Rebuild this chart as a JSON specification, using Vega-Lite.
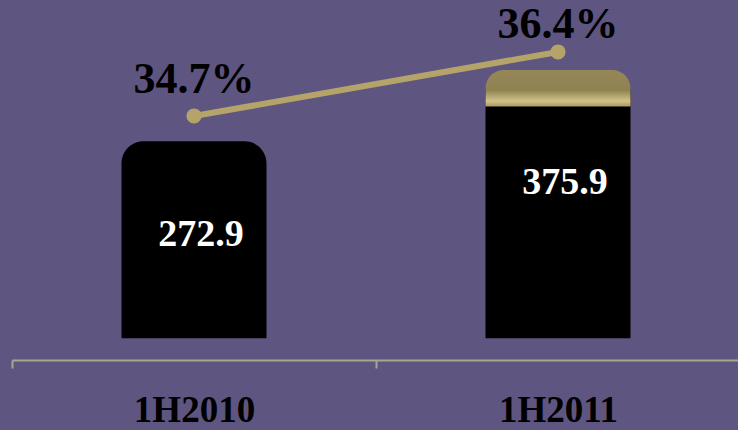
{
  "$schema": "https://vega.github.io/schema/vega-lite/v6.json",
  "autosize": {"type": "none"},
  "padding": {"left": 12, "top": 0, "right": 0, "bottom": 70},
  "width": 728,
  "height": 360,
  "background": "#5e5580",
  "config": {"view": {"stroke": null}},
  "data": {"values": [
    {"period": "1H2010", "value": 272.9, "pct": 0.347},
    {"period": "1H2011", "value": 375.9, "pct": 0.364}
  ]},
  "encoding": {
    "x": {
      "field": "period", "type": "nominal", "sort": null,
      "scale": {"paddingInner": 0, "paddingOuter": 0},
      "axis": {
        "title": null, "labelAngle": 0, "tickBand": "extent",
        "domainColor": "#a9a68e", "domainWidth": 2, "tickColor": "#a9a68e", "tickWidth": 2, "tickSize": 8,
        "labelFont": "Liberation Serif", "labelFontSize": 37, "labelFontWeight": "bold", "labelColor": "#000000",
        "labelPadding": 24, "labelBaseline": "top"
      }
    }
  },
  "layer": [
    {
      "mark": {"type": "bar", "color": "#000000", "size": 145, "cornerRadiusTopLeft": 22, "cornerRadiusTopRight": 22},
      "encoding": {
        "y": {"field": "value", "type": "quantitative", "scale": {"domain": [-43.4, 477.1], "nice": false, "zero": false}, "axis": null},
        "y2": {"datum": -12}
      }
    },
    {
      "transform": [{"filter": "datum.period == '1H2011'"}],
      "mark": {"type": "bar", "size": 145, "cornerRadiusTopLeft": 22, "cornerRadiusTopRight": 22,
        "color": {"gradient": "linear", "x1": 0, "y1": 0, "x2": 0, "y2": 1,
          "stops": [{"offset": 0, "color": "#958756"}, {"offset": 0.55, "color": "#8f8252"}, {"offset": 0.85, "color": "#d2c388"}, {"offset": 1, "color": "#a89a62"}]}},
      "encoding": {
        "y": {"field": "value", "type": "quantitative", "scale": {"domain": [-43.4, 477.1], "nice": false, "zero": false}, "axis": null},
        "y2": {"datum": 323}
      }
    },
    {
      "mark": {"type": "line", "color": "#b5a46a", "strokeWidth": 6},
      "encoding": {
        "y": {"field": "pct", "type": "quantitative", "scale": {"domain": [0.2822, 0.3778], "nice": false, "zero": false}, "axis": null}
      }
    },
    {
      "mark": {"type": "point", "filled": true, "opacity": 1, "color": "#b5a46a", "size": 230},
      "encoding": {
        "y": {"field": "pct", "type": "quantitative", "scale": {"domain": [0.2822, 0.3778], "nice": false, "zero": false}, "axis": null}
      }
    },
    {
      "mark": {"type": "text", "font": "Liberation Serif", "fontSize": 44, "fontWeight": "bold", "color": "#000000", "baseline": "middle", "align": "center"},
      "encoding": {
        "y": {"field": "pct", "type": "quantitative", "scale": {"domain": [0.2604, 0.3717], "nice": false, "zero": false}, "axis": null},
        "text": {"field": "pct", "type": "quantitative", "format": ".1%"}
      }
    },
    {
      "mark": {"type": "text", "font": "Liberation Serif", "fontSize": 38, "fontWeight": "bold", "color": "#ffffff", "baseline": "middle", "align": "center", "dx": 7},
      "encoding": {
        "y": {"field": "value", "type": "quantitative", "scale": {"domain": [25.3, 738.3], "nice": false, "zero": false}, "axis": null},
        "text": {"field": "value", "type": "quantitative", "format": ".1f"}
      }
    }
  ],
  "resolve": {"scale": {"y": "independent"}}
}
